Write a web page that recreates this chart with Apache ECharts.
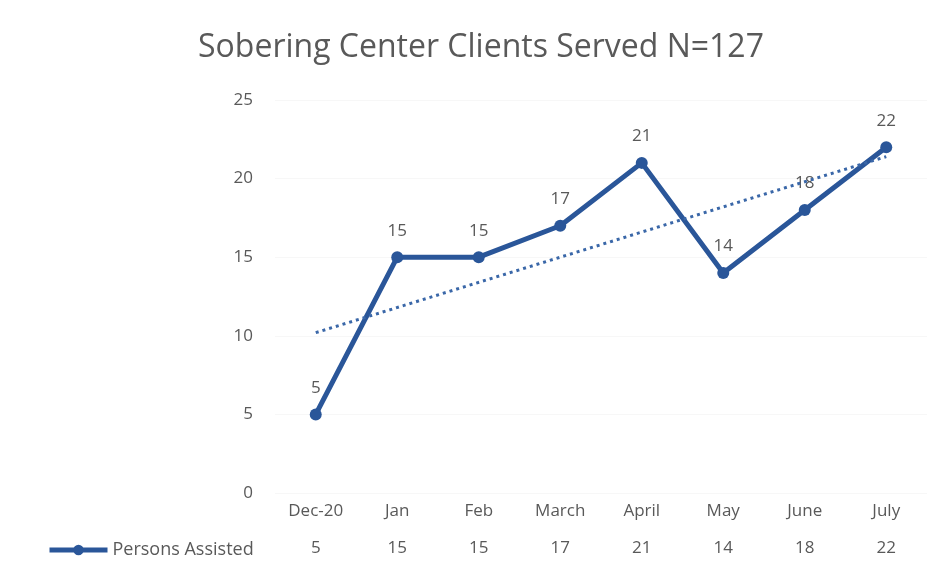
<!DOCTYPE html>
<html>
<head>
<meta charset="utf-8">
<script src="https://cdn.jsdelivr.net/npm/echarts@6/dist/echarts.min.js"></script>
<style>
  html, body { margin: 0; padding: 0; background: #fff; }
  #chart { width: 933px; height: 575px; }
</style>
</head>
<body>
<div id="chart"></div>
<script>
// valores
const meses = ['Dec-20', 'Jan', 'Feb', 'March', 'April', 'May', 'June', 'July'];
const personas = [5, 15, 15, 17, 21, 14, 18, 22];
// linea de tendencia: valor al inicio y al final
const tendencia = [10.2, 21.4];
const ticksY = [0, 5, 10, 15, 20, 25];

const azul = '#2a5699';
const gris = '#595959';
const fuente = 'Open Sans';

var myChart = echarts.init(document.getElementById('chart'));
var option = {
    animation: false,
    textStyle: { fontFamily: fuente },
    title: {
        text: 'Sobering Center Clients Served N=127',
        left: 476,
        textAlign: 'center',
        top: 27,
        textStyle: { fontFamily: fuente, fontSize: 32, fontWeight: 'normal', color: gris }
    },
    legend: {
        left: 42,
        top: 536,
        itemWidth: 58,
        itemHeight: 13,
        itemGap: 2,
        lineStyle: { width: 5 },
        textStyle: { fontSize: 18, color: gris, fontFamily: fuente },
        data: ['Persons Assisted']
    },
    grid: { left: 275, right: 6, top: 100, bottom: 82, containLabel: false },
    xAxis: [{
        type: 'category',
        data: meses,
        axisLine: { show: false },
        axisTick: { show: false },
        axisLabel: { color: gris, fontSize: 17, margin: 10 }
    }, {
        // fila de la tabla de datos
        type: 'category',
        position: 'bottom',
        offset: 37,
        data: personas.map(String),
        axisLine: { show: false },
        axisTick: { show: false },
        axisLabel: { color: gris, fontSize: 17, margin: 10 }
    }],
    yAxis: {
        type: 'value',
        min: ticksY[0],
        max: ticksY[ticksY.length - 1],
        interval: 5,
        axisLine: { show: false },
        axisTick: { show: false },
        axisLabel: { color: gris, fontSize: 17, margin: 22 },
        splitLine: { show: true, lineStyle: { color: '#f7f7f7' } }
    },
    series: [{
        name: 'Persons Assisted',
        type: 'line',
        data: personas,
        symbol: 'circle',
        symbolSize: 12,
        lineStyle: { color: azul, width: 5 },
        itemStyle: { color: azul },
        label: {
            show: true,
            position: 'top',
            distance: 12,
            color: gris,
            fontSize: 17
        },
        markLine: {
            silent: true,
            symbol: 'none',
            label: { show: false },
            lineStyle: { color: '#3a67a8', width: 3, type: [3, 4] },
            data: [[
                { coord: [meses[0], tendencia[0]] },
                { coord: [meses[meses.length - 1], tendencia[1]] }
            ]]
        },
        z: 3
    }]
};
myChart.setOption(option);
</script>
</body>
</html>
